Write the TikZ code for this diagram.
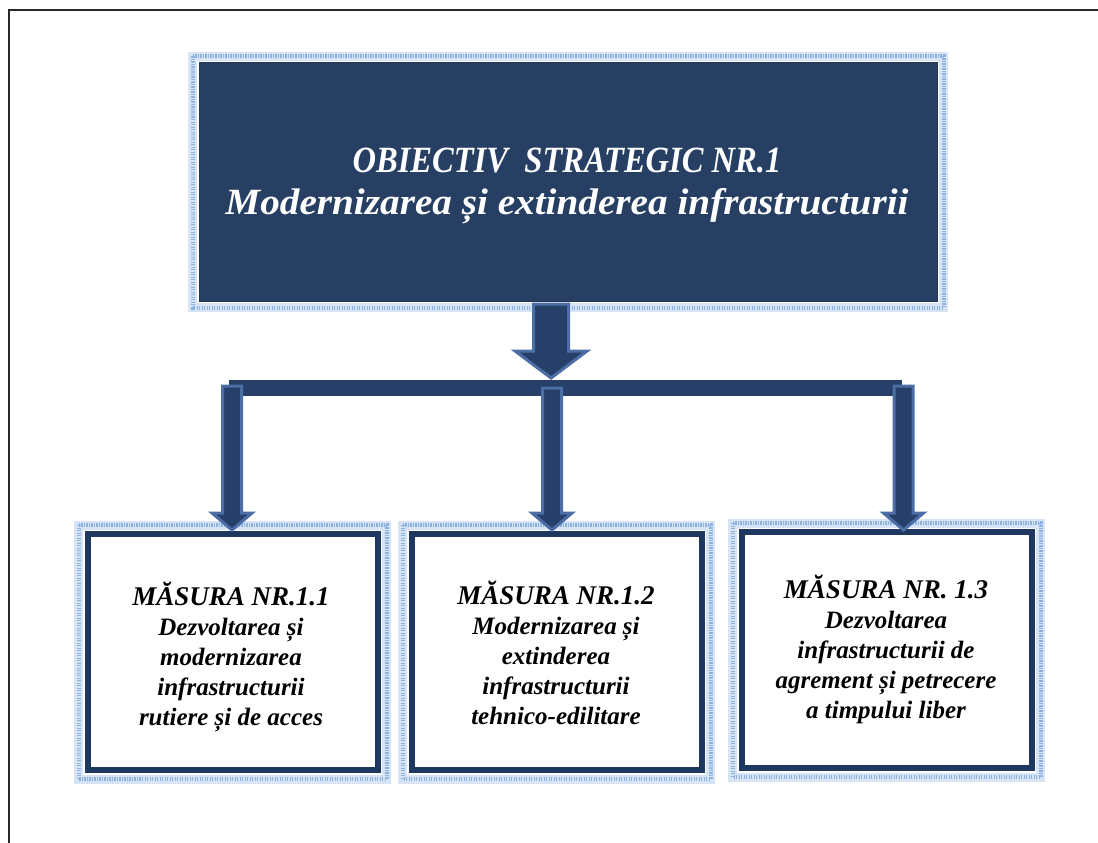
\documentclass[tikz,border=0pt]{standalone}
\usepackage{fontspec}
\usepackage{graphicx}
\setmainfont{Liberation Serif}
\usetikzlibrary{calc}
\definecolor{navy}{RGB}{38,63,99}
\definecolor{arrfill}{RGB}{38,64,106}
\definecolor{arredge}{RGB}{76,110,165}
\definecolor{boxedge}{RGB}{30,56,96}
\definecolor{glow}{RGB}{140,178,225}
\definecolor{glowlight}{RGB}{214,228,246}
\definecolor{framecol}{RGB}{40,40,40}
\newcommand\dnarrow[6]{%
  \filldraw[arr] ({#1-#5},#2) -- ({#1+#5},#2) -- ({#1+#5},#3) -- ({#1+#6},#3)
    -- (#1,#4) -- ({#1-#6},#3) -- ({#1-#5},#3) -- cycle;}
\newcommand\glowaround[1]{%
  \draw[glowband] ($(#1.north west)+(-6,-6)$) rectangle ($(#1.south east)+(6,6)$);
  \draw[glowdots] ($(#1.north west)+(-6,-6)$) rectangle ($(#1.south east)+(6,6)$);}
\begin{document}
\begin{tikzpicture}[x=1pt,y=-1pt,
  topbox/.style={draw=navy!85!black, line width=1pt, fill=navy, minimum width=738pt, minimum height=238pt, inner sep=0pt},
  mbox/.style={draw=boxedge, line width=6pt, fill=white, minimum width=290pt, minimum height=236pt, inner sep=0pt},
  arr/.style={fill=arrfill, draw=arredge, line width=3pt, line join=miter},
  bus/.style={fill=arrfill, draw=none},
  glowband/.style={draw=glowlight, line width=9pt},
  glowdots/.style={draw=glow, line width=4pt, dash pattern=on 1.2pt off 1.3pt},
  toptext/.style={text=white, font=\fontsize{37}{42}\selectfont\bfseries\itshape, align=center, inner sep=0pt},
  mtext/.style={text=black, font=\fontsize{25}{30}\selectfont\bfseries\itshape, align=center, inner sep=0pt},
  frameline/.style={draw=framecol, line width=2pt},
]
\useasboundingbox (0,0) rectangle (1098,843);
\fill[white] (0,0) rectangle (1098,843);
\draw[frameline] (9,843) -- (9,10) -- (1098,10);

% top box
\node[topbox] (obj) at (568,182) {};
\glowaround{obj}
\node[topbox] (objfill) at (568,182) {};
\node[toptext] (objtext) at (567,186) {\scalebox{0.88}[1]{OBIECTIV\ \ STRATEGIC NR.1}\\\scalebox{1.06}[1]{Modernizarea și extinderea infrastructurii}};

% measure boxes
\node[mbox] (m1) at (232.5,652) {};
\node[mbox] (m2) at (556.5,652) {};
\node[mbox] (m3) at (886.5,650) {};
\glowaround{m1}
\glowaround{m2}
\glowaround{m3}
\node[mbox] (m1b) at (232.5,652) {};
\node[mbox] (m2b) at (556.5,652) {};
\node[mbox] (m3b) at (886.5,650) {};

% connectors
\coordinate (busL) at (229,380);
\coordinate (busR) at (902,396);
\fill[bus] (busL) rectangle (busR);
\dnarrow{551}{304}{351}{378}{17.5}{36}
\dnarrow{232}{386}{513}{530}{9.5}{20}
\dnarrow{552}{388}{513}{530}{9.5}{20}
\dnarrow{903.5}{386}{513}{530}{9.5}{20}

% texts
\node[mtext] (t1) at (231,657) {{\fontsize{27}{30}\selectfont MĂSURA NR.1.1}\\Dezvoltarea și\\modernizarea\\infrastructurii\\rutiere și de acces};
\node[mtext] (t2) at (556,653) {{\fontsize{27}{30}\selectfont MĂSURA NR.1.2}\\Modernizarea și\\extinderea\\infrastructurii\\tehnico-edilitare};
\node[mtext] (t3) at (886,649) {{\fontsize{27}{30}\selectfont MĂSURA NR. 1.3}\\Dezvoltarea\\infrastructurii de\\agrement și petrecere\\a timpului liber};
\end{tikzpicture}
\end{document}
